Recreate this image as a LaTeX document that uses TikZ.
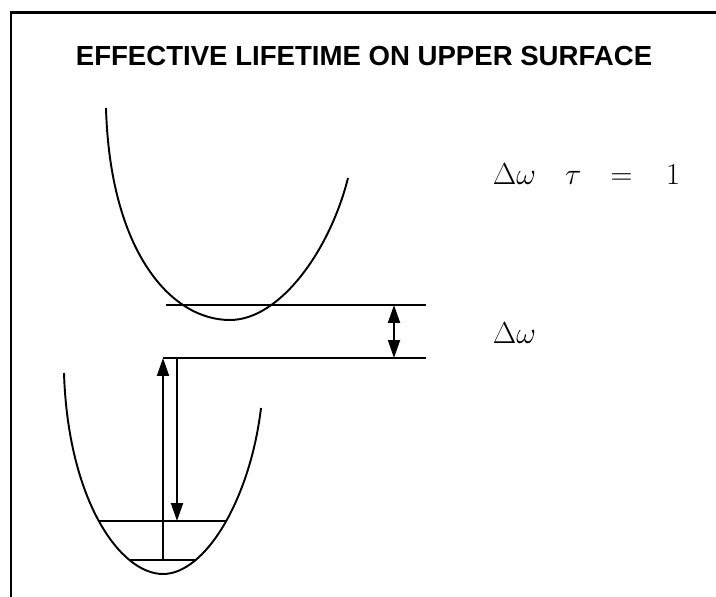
\documentclass[tikz,border=0pt]{standalone}
\usepackage{amsmath}
\usepackage{fontspec}
\setsansfont{Liberation Sans}
\usetikzlibrary{
	arrows.meta,
	positioning,
	calc
}

\begin{document}
\begin{tikzpicture}[>={Triangle[length=0.36cm,width=0.24cm]},x=0.02cm,y=-0.02cm,line width=1.1pt]
		
		\useasboundingbox (0,0) rectangle (716,597);
		
		% frame
		\draw[line width=1.7pt] (11,597) -- (11,13) -- (716,13);
		
		% title
		\node (title) at (364,56) {\sffamily\bfseries\fontsize{15.7}{18}\selectfont EFFECTIVE LIFETIME ON UPPER SURFACE};
		
		% upper surface
		\draw (106,108) .. controls (110,250) and (170,320) .. (230,320)
			.. controls (280,320) and (330,250) .. (348,178);
		
		% lower surface
		\draw (64,373) .. controls (68,500) and (120,574) .. (163,574)
			.. controls (205,574) and (250,500) .. (261,408);
		
		% levels
		\coordinate (top-l) at (166,305);
		\coordinate (top-r) at (426,305);
		\coordinate (mid-l) at (163,358);
		\coordinate (mid-r) at (426,358);
		\coordinate (low-l) at (98,521);
		\coordinate (low-r) at (227,521);
		\coordinate (gnd-l) at (130,560);
		\coordinate (gnd-r) at (195,560);
		
		\draw (top-l) -- (top-r);
		\draw (mid-l) -- (mid-r);
		\draw (low-l) -- (low-r);
		\draw (gnd-l) -- (gnd-r);
		
		% absorption and emission
		\coordinate (pump) at (163,560);
		\coordinate (emit-t) at (177,358);
		\coordinate (emit-b) at (177,521);
		\draw[->] (pump) -- (mid-l);
		\draw[->] (emit-t) -- (emit-b);
		
		% gap
		\coordinate (gap-t) at (394,305);
		\coordinate (gap-b) at (394,358);
		\draw[<->] (gap-t) -- (gap-b);
		
		% labels
		\node[anchor=base west,inner sep=0pt] (rule) at (492,185) {\fontsize{16.6}{20}\selectfont$\Delta\omega\quad\tau\quad{=}\mkern20mu 1$};
		\node[anchor=base west,inner sep=0pt] (gap) at (492,344) {\fontsize{16.6}{20}\selectfont$\Delta\omega$};
		
	\end{tikzpicture}
\end{document}
